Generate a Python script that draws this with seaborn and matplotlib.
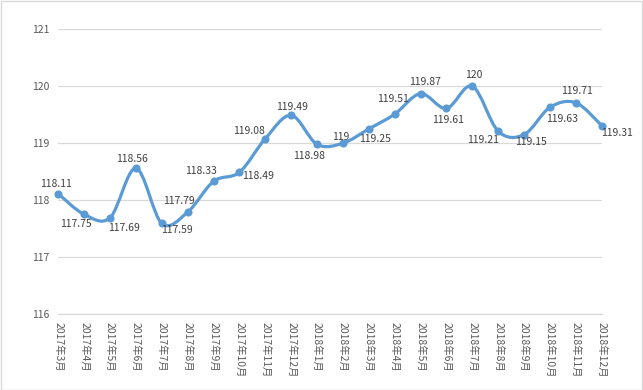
import matplotlib
matplotlib.use("Agg")
import matplotlib.pyplot as plt
from matplotlib.path import Path
from matplotlib.patches import PathPatch, Rectangle
import seaborn as sns
import pandas as pd

# data
months = ["2017年3月", "2017年4月", "2017年5月", "2017年6月", "2017年7月", "2017年8月",
          "2017年9月", "2017年10月", "2017年11月", "2017年12月", "2018年1月", "2018年2月",
          "2018年3月", "2018年4月", "2018年5月", "2018年6月", "2018年7月", "2018年8月",
          "2018年9月", "2018年10月", "2018年11月", "2018年12月"]
values = [118.11, 117.75, 117.69, 118.56, 117.59, 117.79, 118.33, 118.49, 119.08, 119.49,
          118.98, 119, 119.25, 119.51, 119.87, 119.61, 120, 119.21, 119.15, 119.63, 119.71, 119.31]
y_ticks = [116, 117, 118, 119, 120, 121]

# label placement (pixel offsets from each point, x right / y down)
label_offsets = [(-2, -10), (-8, 10), (14, 10), (-4, -9), (15, 7), (-9, -11), (-13, -10),
                 (19, 4), (-16, -8), (1, -8), (-8, 12), (-2, -6), (6, 10), (-2, -15),
                 (4, -12), (2, 12), (1, -11), (-15, 9), (7, 7), (12, 12), (1, -12), (15, 7)]

blue = "#5b9bd5"
grey = "#d9d9d9"
text_c = "#595959"

sns.set_theme(style="white")
plt.rcParams['font.family'] = ['Noto Sans CJK SC', 'DejaVu Sans']

df = pd.DataFrame({"x": range(len(months)), "value": values})

fig = plt.figure(figsize=(6.43, 3.90), dpi=100)
ax = fig.add_axes([58.3 / 643, 76 / 390, 543.4 / 643, 284.7 / 390])

# smoothed line like Excel (Catmull-Rom as cubic Bezier)
pts = list(zip(df["x"], df["value"]))
verts = [pts[0]]
codes = [Path.MOVETO]
n = len(pts)
for i in range(n - 1):
    p0 = pts[i - 1] if i > 0 else pts[i]
    p1 = pts[i]
    p2 = pts[i + 1]
    p3 = pts[i + 2] if i + 2 < n else pts[i + 1]
    c1 = (p1[0] + (p2[0] - p0[0]) / 6, p1[1] + (p2[1] - p0[1]) / 6)
    c2 = (p2[0] - (p3[0] - p1[0]) / 6, p2[1] - (p3[1] - p1[1]) / 6)
    verts += [c1, c2, p2]
    codes += [Path.CURVE4] * 3
ax.add_patch(PathPatch(Path(verts, codes), facecolor="none", edgecolor=blue,
                       lw=2.3, capstyle="round", joinstyle="round", zorder=3))

sns.scatterplot(data=df, x="x", y="value", color=blue, s=34, edgecolor=blue,
                linewidth=0, zorder=4, ax=ax, clip_on=False)

for i, v in enumerate(values):
    dx, dy = label_offsets[i]
    ax.annotate(f"{v:g}", (i, v), xytext=(dx, -dy), textcoords="offset pixels",
                ha="center", va="center", fontsize=7.5, color="#404040", zorder=5)

ax.set_xlim(0, len(months) - 1)
ax.set_ylim(116, 121)
ax.set_yticks(y_ticks)
ax.set_xticks(range(len(months)))
ax.set_xticklabels(months, rotation=270, ha="center", va="top")
ax.yaxis.grid(True, color=grey, lw=0.9)
ax.set_axisbelow(True)
for side in ["top", "right", "left"]:
    ax.spines[side].set_visible(False)
ax.spines["bottom"].set_color(grey)
ax.spines["bottom"].set_linewidth(0.9)
ax.tick_params(axis="y", length=0, pad=6.5, labelsize=7.5, labelcolor=text_c)
ax.tick_params(axis="x", direction="in", length=3, color=grey, width=0.9, pad=6,
               labelsize=7.5, labelcolor=text_c)
ax.set_xlabel("")
ax.set_ylabel("")

# chart border
fig.patches.append(Rectangle((0.001, 0.001), 0.997, 0.996, transform=fig.transFigure,
                             fill=False, edgecolor=grey, lw=1))

fig.savefig("out.png", dpi=100)
